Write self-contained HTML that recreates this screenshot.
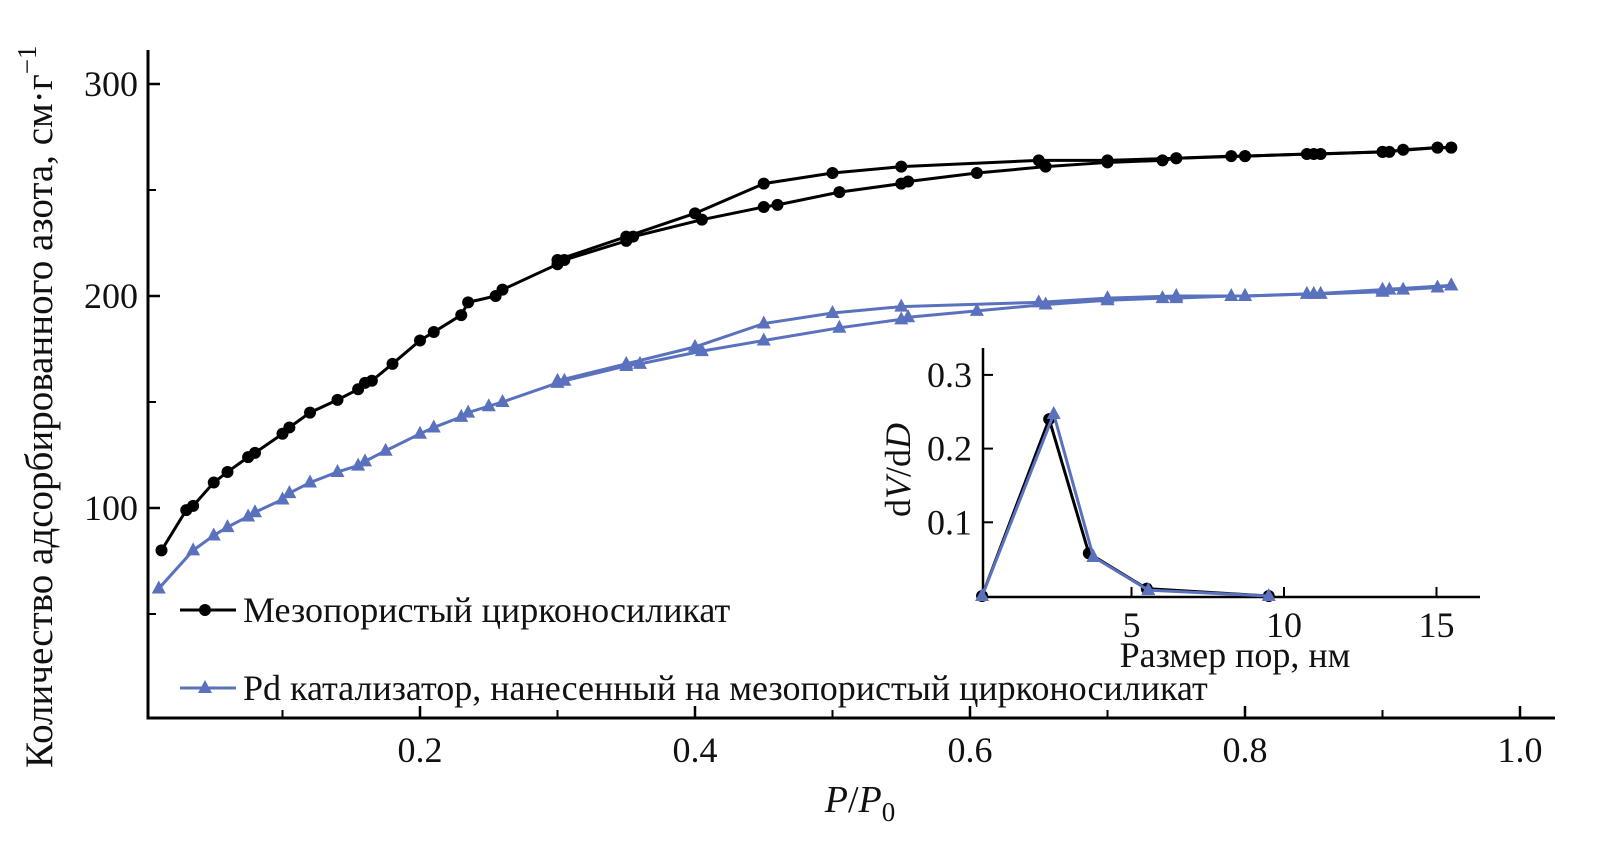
<!DOCTYPE html>
<html><head><meta charset="utf-8"><style>
body{margin:0;background:#fff}
text{font-family:"Liberation Serif",serif;fill:#111}
</style></head><body>
<svg id="chart" width="1606" height="860" xmlns="http://www.w3.org/2000/svg">
<g id="main"></g>
<g id="inset"></g>
<g id="legend">
<line x1="180" y1="610" x2="236" y2="610" stroke="#000" stroke-width="3"/>
<circle cx="205" cy="610" r="6" fill="#000"/>
<text x="243" y="622" font-size="36">Мезопористый цирконосиликат</text>
<line x1="180" y1="688" x2="236" y2="688" stroke="#5a72be" stroke-width="3"/>
<polygon points="205,680 212,693 198,693" fill="#5a72be"/>
<text x="243" y="700" font-size="36">Pd катализатор, нанесенный на мезопористый цирконосиликат</text>
</g>
<text x="0" y="0" font-size="39" transform="translate(52,768) rotate(-90)">Количество адсорбированного азота, см·г<tspan dy="-16" font-size="27">−1</tspan></text>
<text x="860" y="812" font-size="38" text-anchor="middle"><tspan font-style="italic">P</tspan>/<tspan font-style="italic">P</tspan><tspan font-size="27" dy="9">0</tspan></text>
</svg>
<script>
const blackAdsX=[0.012,0.03,0.035,0.05,0.06,0.075,0.08,0.1,0.105,0.12,0.14,0.155,0.16,0.165,0.18,0.2,0.21,0.23,0.235,0.255,0.26,0.3,0.305,0.35,0.355,0.405,0.45,0.46,0.505,0.55,0.555,0.605,0.655,0.7,0.74,0.75,0.79,0.8,0.845,0.855,0.9,0.905,0.915,0.94,0.95];
const blackAdsY=[80,99,101,112,117,124,126,135,138,145,151,156,159,160,168,179,183,191,197,200,203,215,217,226,228,236,242,243,249,253,254,258,261,263,264,265,266,266,267,267,268,268,269,270,270];
const blackDesX=[0.95,0.94,0.9,0.85,0.8,0.75,0.7,0.65,0.55,0.5,0.45,0.4,0.35,0.3];
const blackDesY=[270,270,268,267,266,265,264,264,261,258,253,239,228,217];
const blueAdsX=[0.01,0.035,0.05,0.06,0.075,0.08,0.1,0.105,0.12,0.14,0.155,0.16,0.175,0.2,0.21,0.23,0.235,0.25,0.26,0.3,0.305,0.35,0.36,0.405,0.45,0.505,0.55,0.555,0.605,0.655,0.7,0.74,0.75,0.79,0.8,0.845,0.855,0.9,0.905,0.915,0.94,0.95];
const blueAdsY=[62,80,87,91,96,98,104,107,112,117,120,122,127,135,138,143,145,148,150,159,160,167,168,174,179,185,189,190,193,196,198,199,199,200,200,201,201,202,203,203,204,205];
const blueDesX=[0.95,0.9,0.85,0.8,0.75,0.7,0.65,0.55,0.5,0.45,0.4,0.35,0.3];
const blueDesY=[205,203,201,200,200,199,197,195,192,187,176,168,160];
const xTicks=[0.2,0.4,0.6,0.8,1.0];
const xTickLabels=["0.2","0.4","0.6","0.8","1.0"];
const xMinor=[0.1,0.3,0.5,0.7,0.9];
const yTicks=[100,200,300];
const yMinor=[50,150,250];
const insetBlackX=[0.1,2.3,3.6,5.5,9.5];
const insetBlackY=[0,0.24,0.058,0.01,0];
const insetBlueX=[0.1,2.45,3.75,5.55,9.5];
const insetBlueY=[0,0.247,0.053,0.008,0];
const insetXTicks=[5,10,15];
const insetYTicks=[0.1,0.2,0.3];

const NS="http://www.w3.org/2000/svg";
const X=v=>145+v*1375, Y=v=>720-v*2.12;
const IX=v=>979+v*30.5, IY=v=>596-v*737;
function mk(p,t,a){const e=document.createElementNS(NS,t);for(const k in a)e.setAttribute(k,a[k]);p.appendChild(e);return e;}
function series(g,xs,ys,fx,fy,col,shape,name,r){
 const pl=mk(g,'polyline',{points:xs.map((x,i)=>fx(x)+','+fy(ys[i])).join(' '),fill:'none',stroke:col,'stroke-width':3});
 
 
 xs.forEach((x,i)=>{const cx=fx(x),cy=fy(ys[i]);let m;
  if(shape==='c')m=mk(g,'circle',{cx:cx,cy:cy,r:r,fill:col});
  else m=mk(g,'polygon',{points:`${cx},${cy-r-2} ${cx+r+1},${cy+r-1} ${cx-r-1},${cy+r-1}`,fill:col});
  
  });
}
const g=document.getElementById('main');
let a=mk(g,'path',{d:'M148,50V718H1555',fill:'none',stroke:'#000','stroke-width':3});


xTicks.forEach((v,i)=>{let l=mk(g,'line',{x1:X(v),x2:X(v),y1:718,y2:706,stroke:'#000','stroke-width':2.5});
 
 
 let t=mk(g,'text',{x:X(v),y:762,'font-size':36,'text-anchor':'middle'});t.textContent=xTickLabels[i];
 
 });
xMinor.forEach(v=>{let l=mk(g,'line',{x1:X(v),x2:X(v),y1:718,y2:710,stroke:'#000','stroke-width':2});
 
 });
yTicks.forEach(v=>{let l=mk(g,'line',{x1:148,x2:160,y1:Y(v),y2:Y(v),stroke:'#000','stroke-width':2.5});
 
 
 let t=mk(g,'text',{x:138,y:Y(v)+12,'font-size':36,'text-anchor':'end'});t.textContent=v;
 
 });
yMinor.forEach(v=>{let l=mk(g,'line',{x1:148,x2:156,y1:Y(v),y2:Y(v),stroke:'#000','stroke-width':2});
 
 });
series(g,blueAdsX,blueAdsY,X,Y,'#5a72be','t','blue-adsorption',6);
series(g,blueDesX,blueDesY,X,Y,'#5a72be','t','blue-desorption',6);
series(g,blackAdsX,blackAdsY,X,Y,'#000','c','black-adsorption',6);
series(g,blackDesX,blackDesY,X,Y,'#000','c','black-desorption',6);

const h=document.getElementById('inset');
let b=mk(h,'path',{d:'M983,348V597H1480',fill:'none',stroke:'#000','stroke-width':2.5});


insetXTicks.forEach(v=>{let l=mk(h,'line',{x1:IX(v),x2:IX(v),y1:597,y2:587,stroke:'#000','stroke-width':2});
 
 
 let t=mk(h,'text',{x:IX(v),y:637,'font-size':36,'text-anchor':'middle'});t.textContent=v;
 
 });
insetYTicks.forEach(v=>{let l=mk(h,'line',{x1:983,x2:993,y1:IY(v),y2:IY(v),stroke:'#000','stroke-width':2});
 
 
 let t=mk(h,'text',{x:972,y:IY(v)+12,'font-size':36,'text-anchor':'end'});t.textContent=v;
 
 });
let it=mk(h,'text',{x:1235,y:667,'font-size':36,'text-anchor':'middle'});it.textContent='Размер пор, нм';


let iy=mk(h,'text',{'font-size':36,'text-anchor':'middle',transform:'translate(910,470) rotate(-90)'});
iy.innerHTML='d<tspan font-style="italic">V</tspan>/d<tspan font-style="italic">D</tspan>';


series(h,insetBlackX,insetBlackY,IX,IY,'#000','c','inset-black',6);
series(h,insetBlueX,insetBlueY,IX,IY,'#5a72be','t','inset-blue',6);
</script>
</body></html>
